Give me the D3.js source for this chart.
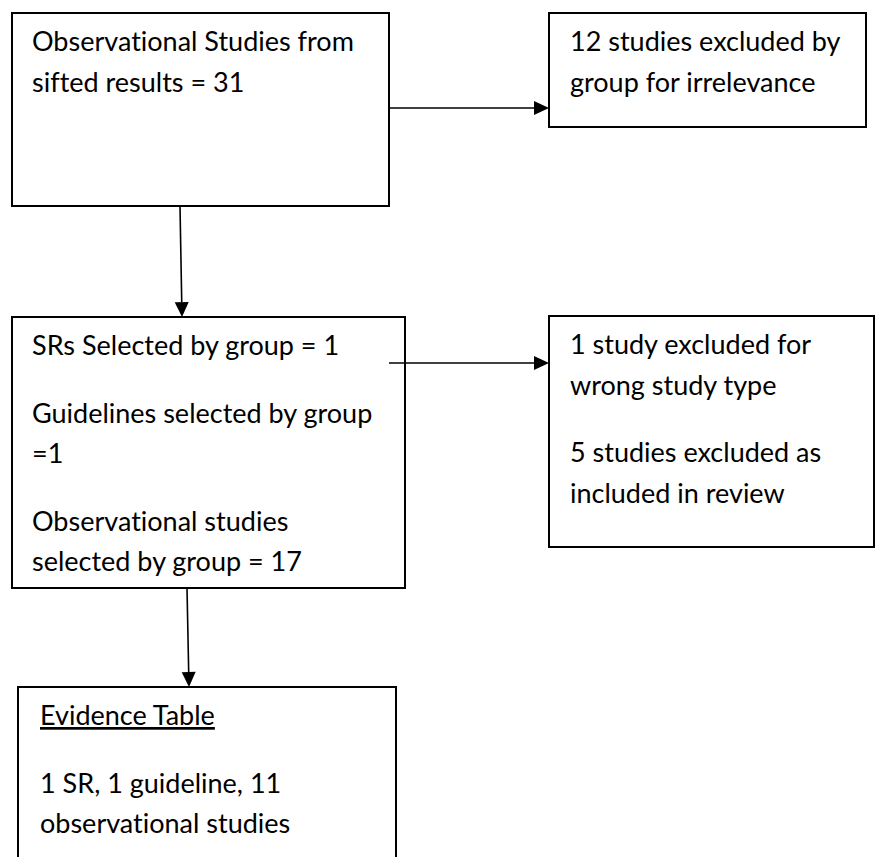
<!DOCTYPE html>
<html>
<head>
<meta charset="utf-8">
<script src="https://cdn.jsdelivr.net/npm/d3@7/dist/d3.min.js"></script>
<style>
  html, body { margin: 0; padding: 0; background: #fff; }
  svg { display: block; }
  text { font-variant-ligatures: none; font-feature-settings: "liga" 0, "clig" 0; }
</style>
</head>
<body>
<svg id="chart" width="876" height="857"></svg>
<script>
// ---- Data (text content of the flow diagram) ----
const nodeIds = ["sifted", "excluded1", "selected", "excluded2", "evidence"];
const siftedLines = ["Observational Studies from", "sifted results = 31"];
const excluded1Lines = ["12 studies excluded by", "group for irrelevance"];
const selectedLines = ["SRs Selected by group = 1", "", "Guidelines selected by group", "=1", "", "Observational studies", "selected by group = 17"];
const excluded2Lines = ["1 study excluded for", "wrong study type", "", "5 studies excluded as", "included in review"];
const evidenceLines = ["Evidence Table", "", "1 SR, 1 guideline, 11", "observational studies"];
const underlinedHeadings = ["Evidence Table"];
const linkSources = ["sifted", "sifted", "selected", "selected"];
const linkTargets = ["excluded1", "selected", "excluded2", "evidence"];

// ---- Layout (positions / sizes) ----
const layout = {
  sifted:    {x0: 12,  y0: 13,  x1: 389, y1: 206},
  excluded1: {x0: 549, y0: 13,  x1: 866, y1: 127},
  selected:  {x0: 12,  y0: 317, x1: 405, y1: 588},
  excluded2: {x0: 549, y0: 316, x1: 874, y1: 547},
  evidence:  {x0: 18,  y0: 687, x1: 396, y1: 880}
};
const textPad = {sifted: 20, excluded1: 21, selected: 20, excluded2: 21, evidence: 22};
const firstBaseline = 38;
const lineH = 40.5, paraGap = 27;

const linkGeom = [
  {x1: 389, y1: 108, x2: 549, y2: 108},
  {x1: 180, y1: 206, x2: 182, y2: 317},
  {x1: 389, y1: 363, x2: 549, y2: 363},
  {x1: 187, y1: 588, x2: 189, y2: 687}
];

const linesById = {
  sifted: siftedLines, excluded1: excluded1Lines, selected: selectedLines,
  excluded2: excluded2Lines, evidence: evidenceLines
};

const svg = d3.select("#chart");
const font = "Lato, 'Open Sans', 'Liberation Sans', sans-serif";

// Boxes
const nodes = nodeIds.map(id => ({id, ...layout[id], lines: linesById[id]}));
svg.append("g").selectAll("rect").data(nodes).join("rect")
  .attr("x", d => d.x0).attr("y", d => d.y0)
  .attr("width", d => d.x1 - d.x0).attr("height", d => d.y1 - d.y0)
  .attr("fill", "none").attr("stroke", "#000").attr("stroke-width", 2);

// Texts
nodes.forEach(n => {
  let y = n.y0 + firstBaseline;
  const items = [];
  n.lines.forEach((t, i) => {
    if (t === "") { y += paraGap; return; }
    items.push({t, y});
    y += lineH;
  });
  svg.append("g").selectAll("text").data(items).join("text")
    .attr("x", n.x0 + textPad[n.id]).attr("y", d => d.y)
    .attr("font-family", font).attr("font-size", 27).attr("fill", "#000")
    .style("text-decoration", d => underlinedHeadings.includes(d.t) ? "underline" : null)
    .text(d => d.t);
});

// Links with arrowheads
const links = linkSources.map((s, i) => ({source: s, target: linkTargets[i], ...linkGeom[i]}));
const ah = 15, aw = 7;
const lg = svg.append("g");
links.forEach(l => {
  const dx = l.x2 - l.x1, dy = l.y2 - l.y1, len = Math.hypot(dx, dy);
  const ux = dx / len, uy = dy / len;
  const bx = l.x2 - ux * ah, by = l.y2 - uy * ah;
  lg.append("line").attr("x1", l.x1).attr("y1", l.y1).attr("x2", bx).attr("y2", by)
    .attr("stroke", "#000").attr("stroke-width", 1.6);
  lg.append("path")
    .attr("d", d3.line()([[l.x2, l.y2], [bx - uy * aw, by + ux * aw], [bx + uy * aw, by - ux * aw]]) + "Z")
    .attr("fill", "#000");
});
</script>
</body>
</html>
